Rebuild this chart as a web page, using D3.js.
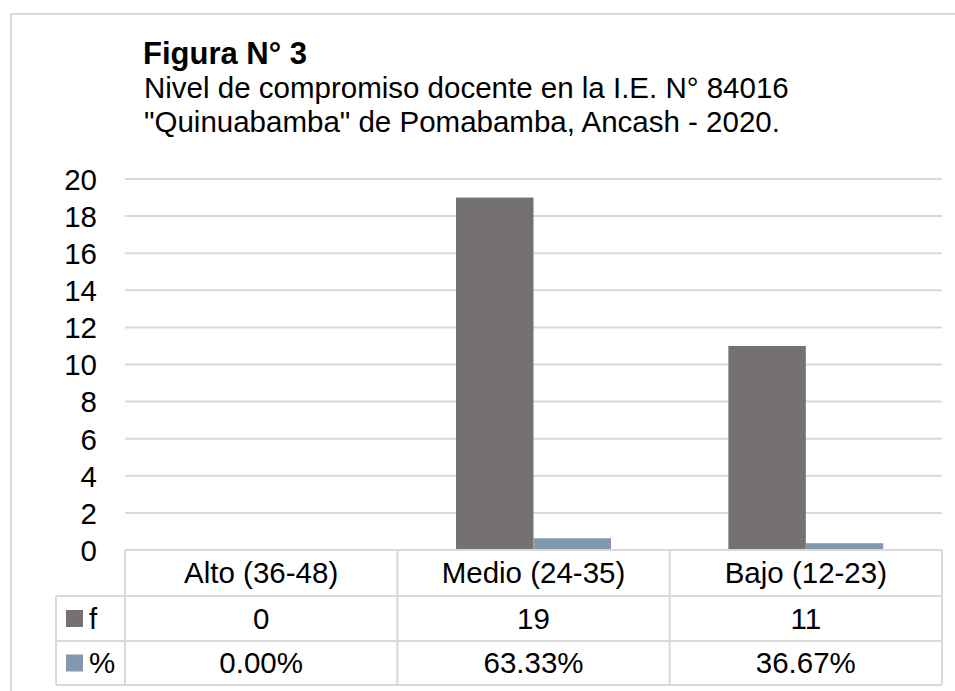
<!DOCTYPE html>
<html>
<head>
<meta charset="utf-8">
<script src="https://cdn.jsdelivr.net/npm/d3@7"></script>
<style>
  body { margin: 0; background: #fff; }
  svg text { font-family: "Liberation Sans", Arial, sans-serif; fill: #000; }
</style>
</head>
<body>
<svg id="chart" width="955" height="691"></svg>
<script>
// data
var categories = ["Alto (36-48)", "Medio (24-35)", "Bajo (12-23)"];
var seriesNames = ["f", "%"];
var fValues = [0, 19, 11];
var pctValues = [0.0, 0.6333, 0.3667];
var yTicks = [0, 2, 4, 6, 8, 10, 12, 14, 16, 18, 20];
var titleLines = ["Nivel de compromiso docente en la I.E. N\u00b0 84016", "\"Quinuabamba\" de Pomabamba, Ancash - 2020."];

var colors = ["#767171", "#8497B0"];
var gridColor = "#d9d9d9";

var svg = d3.select("#chart");

// outer chart border (only top/left visible)
svg.append("line").attr("x1", 11).attr("y1", 14).attr("x2", 955).attr("y2", 14)
    .attr("stroke", gridColor).attr("stroke-width", 2);
svg.append("line").attr("x1", 11).attr("y1", 14).attr("x2", 11).attr("y2", 691)
    .attr("stroke", gridColor).attr("stroke-width", 2);

// titles
svg.append("text").attr("x", 143).attr("y", 64)
    .style("font-size", "31px").style("font-weight", "bold")
    .text("Figura N\u00b0 3");
titleLines.forEach(function (t, i) {
    svg.append("text").attr("x", 144).attr("y", 98 + i * 34)
        .style("font-size", "29.5px").text(t);
});

var plotLeft = 125, plotRight = 942, plotTop = 179, plotBottom = 550;

var x0 = d3.scaleBand().domain(categories).range([plotLeft, plotRight]).padding(0);
var bw = x0.bandwidth();
var x1 = d3.scaleBand().domain(seriesNames).range([bw * 0.2155, bw * 0.7845]).padding(0);
var y = d3.scaleLinear().domain([0, 20]).range([plotBottom, plotTop]);

// gridlines
svg.append("g").selectAll("line").data(yTicks.filter(function (d) { return d > 0; }))
    .enter().append("line")
    .attr("x1", plotLeft).attr("x2", plotRight)
    .attr("y1", function (d) { return y(d); }).attr("y2", function (d) { return y(d); })
    .attr("stroke", gridColor).attr("stroke-width", 2);

// y axis labels
var yAxis = d3.axisLeft(y).tickValues(yTicks).tickSize(0).tickPadding(0);
var ga = svg.append("g").attr("transform", "translate(97,0)").call(yAxis);
ga.select(".domain").remove();
ga.selectAll("text").style("font-size", "29.5px").attr("dy", "0.35em")
    .style("font-family", "'Liberation Sans', Arial, sans-serif").attr("fill", "#000");

// bars
var series = [fValues, pctValues];
var groups = svg.append("g").selectAll("g").data(categories).enter().append("g")
    .attr("transform", function (d) { return "translate(" + x0(d) + ",0)"; });
groups.selectAll("rect").data(function (d, i) {
    return seriesNames.map(function (s, j) { return { s: s, v: series[j][i], c: colors[j] }; });
}).enter().append("rect")
    .attr("x", function (d) { return x1(d.s); })
    .attr("width", x1.bandwidth())
    .attr("y", function (d) { return y(d.v); })
    .attr("height", function (d) { return y(0) - y(d.v); })
    .attr("fill", function (d) { return d.c; });

// data table
var rowTops = [550, 596, 641, 685];
var labelLeft = 56;
var tbl = svg.append("g");
function hline(xa, xb, yp) {
    tbl.append("line").attr("x1", xa).attr("x2", xb).attr("y1", yp).attr("y2", yp)
        .attr("stroke", gridColor).attr("stroke-width", 2);
}
function vline(xp, ya, yb) {
    tbl.append("line").attr("x1", xp).attr("x2", xp).attr("y1", ya).attr("y2", yb)
        .attr("stroke", gridColor).attr("stroke-width", 2);
}
hline(plotLeft, plotRight, rowTops[0]);
hline(labelLeft, plotRight, rowTops[1]);
hline(labelLeft, plotRight, rowTops[2]);
hline(labelLeft, plotRight, rowTops[3]);
vline(labelLeft, rowTops[1], rowTops[3]);
[plotLeft].concat(categories.map(function (c) { return x0(c) + bw; })).forEach(function (xp) {
    vline(xp, rowTops[0], rowTops[3]);
});

categories.forEach(function (c) {
    tbl.append("text").attr("x", x0(c) + bw / 2).attr("y", (rowTops[0] + rowTops[1]) / 2)
        .attr("text-anchor", "middle").attr("dy", "0.35em").style("font-size", "29.5px").text(c);
});
var fmtPct = d3.format(".2%");
var rowTexts = [fValues.map(String), pctValues.map(fmtPct)];
rowTexts.forEach(function (vals, r) {
    var cy = (rowTops[r + 1] + rowTops[r + 2]) / 2;
    tbl.append("rect").attr("x", 66).attr("y", cy - 8.5).attr("width", 17).attr("height", 17)
        .attr("fill", colors[r]);
    tbl.append("text").attr("x", 89).attr("y", cy).attr("dy", "0.35em")
        .style("font-size", "29.5px").text(seriesNames[r]);
    vals.forEach(function (v, i) {
        tbl.append("text").attr("x", x0(categories[i]) + bw / 2).attr("y", cy)
            .attr("text-anchor", "middle").attr("dy", "0.35em").style("font-size", "29.5px").text(v);
    });
});
</script>
</body>
</html>
